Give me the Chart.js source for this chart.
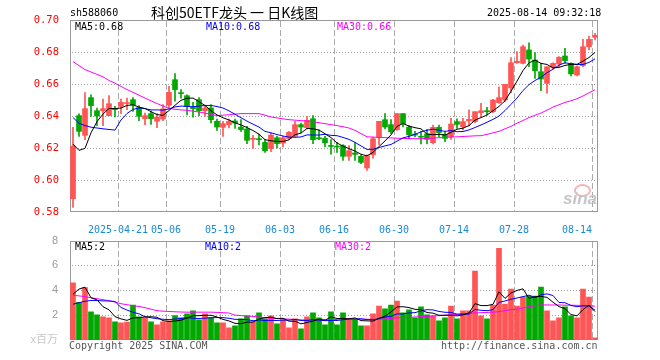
<!DOCTYPE html>
<html><head><meta charset="utf-8">
<script src="https://cdn.jsdelivr.net/npm/chart.js@4.4.1/dist/chart.umd.min.js"></script>
<style>
html,body{margin:0;padding:0;background:#fff;width:660px;height:360px;overflow:hidden;position:relative;font-family:"DejaVu Sans Mono",monospace;}
canvas{position:absolute;left:0;}
#c1{top:0}
#c2{top:230px}
.t{position:absolute;white-space:pre;font-size:10px;line-height:10px;}
</style></head><body>
<canvas id="c1" width="660" height="235"></canvas>
<canvas id="c2" width="660" height="130"></canvas>
<div class="t" style="left:70px;top:8px;color:#000">sh588060</div>
<div class="t" style="left:151px;top:3px;font-family:'Noto Sans CJK SC';font-size:14px;line-height:18px;color:#000">科创50ETF龙头 一 日K线图</div>
<div class="t" style="left:487px;top:8px;color:#000">2025-08-14 09:32:18</div>
<div class="t" style="left:75px;top:22px;color:#000">MA5:0.68</div>
<div class="t" style="left:206px;top:22px;color:#0000ff">MA10:0.68</div>
<div class="t" style="left:337px;top:22px;color:#ff00ff">MA30:0.66</div>
<div class="t" style="left:75px;top:242px;color:#000">MA5:2</div>
<div class="t" style="left:205px;top:242px;color:#0000ff">MA10:2</div>
<div class="t" style="left:335px;top:242px;color:#ff00ff">MA30:2</div>
<div class="t" style="left:69px;top:341px;color:#555">Copyright 2025 SINA.COM</div>
<div class="t" style="left:441px;top:341px;color:#555">http://finance.sina.com.cn</div>
<div style="position:absolute;left:574px;top:184px;width:13px;height:9px;border:2px solid #f3b5b5;border-radius:50%;"></div>
<div class="t" style="left:563px;top:190px;font-family:'Liberation Sans';font-style:italic;font-weight:bold;font-size:17px;line-height:17px;color:#c6c6c6">sina</div>
<script>
const dates = ["04-09","04-10","04-11","04-14","04-15","04-16","04-17","04-18",
"04-21","04-22","04-23","04-24","04-25","04-28","04-29","04-30",
"05-06","05-07","05-08","05-09","05-12","05-13","05-14","05-15","05-16",
"05-19","05-20","05-21","05-22","05-23","05-26","05-27","05-28","05-29","05-30",
"06-03","06-04","06-05","06-06","06-09","06-10","06-11","06-12","06-13",
"06-16","06-17","06-18","06-19","06-20","06-23","06-24","06-25","06-26","06-27",
"06-30","07-01","07-02","07-03","07-04","07-07","07-08","07-09","07-10","07-11",
"07-14","07-15","07-16","07-17","07-18","07-21","07-22","07-23","07-24","07-25",
"07-28","07-29","07-30","07-31","08-01","08-04","08-05","08-06","08-07","08-08","08-11","08-12","08-13",
"08-14"];
const tickLabels = {"04-21":"2025-04-21","05-06":"05-06","05-19":"05-19","06-03":"06-03","06-16":"06-16","06-30":"06-30","07-14":"07-14","07-28":"07-28","08-14":"08-14     "};

const open = [0.5883,0.6402,0.6279,0.6515,0.6433,0.6433,0.6402,0.6448,0.6460,0.6478,
0.6502,0.6452,0.6383,0.6415,0.6367,0.6381,0.6467,0.6627,0.6544,0.6527,
0.6454,0.6502,0.6433,0.6450,0.6367,0.6329,0.6346,0.6369,0.6331,0.6319,
0.6254,0.6258,0.6235,0.6196,0.6264,0.6231,0.6260,0.6273,0.6346,0.6327,
0.6383,0.6264,0.6260,0.6215,0.6210,0.6215,0.6148,0.6169,0.6148,0.6075,
0.6158,0.6269,0.6377,0.6346,0.6315,0.6415,0.6331,0.6287,0.6272,0.6288,
0.6233,0.6329,0.6285,0.6271,0.6365,0.6333,0.6369,0.6365,0.6421,0.6431,
0.6427,0.6483,0.6500,0.6575,0.6733,0.6729,0.6813,0.6750,0.6677,0.6604,
0.6704,0.6725,0.6775,0.6729,0.6656,0.6715,0.6833,0.6892];
const high = [0.6329,0.6414,0.6547,0.6533,0.6450,0.6506,0.6527,0.6460,0.6506,0.6512,
0.6515,0.6465,0.6419,0.6431,0.6415,0.6471,0.6585,0.6665,0.6565,0.6533,
0.6485,0.6515,0.6460,0.6471,0.6381,0.6367,0.6381,0.6381,0.6377,0.6335,
0.6279,0.6287,0.6252,0.6294,0.6273,0.6273,0.6304,0.6367,0.6356,0.6398,
0.6402,0.6314,0.6273,0.6252,0.6235,0.6221,0.6215,0.6235,0.6158,0.6158,
0.6269,0.6367,0.6415,0.6377,0.6415,0.6415,0.6340,0.6304,0.6302,0.6317,
0.6344,0.6344,0.6302,0.6385,0.6383,0.6385,0.6438,0.6427,0.6479,0.6454,
0.6504,0.6583,0.6598,0.6765,0.6802,0.6844,0.6858,0.6796,0.6729,0.6708,
0.6733,0.6771,0.6823,0.6733,0.6713,0.6879,0.6900,0.6917];
const low = [0.5829,0.6273,0.6252,0.6398,0.6340,0.6340,0.6402,0.6394,0.6415,0.6440,
0.6429,0.6371,0.6346,0.6348,0.6327,0.6371,0.6446,0.6492,0.6512,0.6406,
0.6392,0.6402,0.6398,0.6356,0.6310,0.6273,0.6325,0.6323,0.6304,0.6227,
0.6198,0.6219,0.6173,0.6177,0.6200,0.6206,0.6252,0.6269,0.6294,0.6319,
0.6227,0.6252,0.6206,0.6162,0.6173,0.6123,0.6123,0.6123,0.6102,0.6060,
0.6137,0.6221,0.6319,0.6290,0.6310,0.6331,0.6256,0.6269,0.6225,0.6225,
0.6225,0.6267,0.6240,0.6254,0.6323,0.6313,0.6338,0.6358,0.6396,0.6406,
0.6421,0.6479,0.6490,0.6545,0.6729,0.6725,0.6708,0.6635,0.6558,0.6542,
0.6692,0.6708,0.6729,0.6650,0.6650,0.6708,0.6813,0.6875];
const close = [0.6212,0.6304,0.6446,0.6465,0.6400,0.6446,0.6477,0.6440,0.6485,0.6481,
0.6469,0.6398,0.6402,0.6383,0.6394,0.6444,0.6548,0.6565,0.6540,0.6460,
0.6446,0.6433,0.6450,0.6377,0.6331,0.6352,0.6367,0.6356,0.6315,0.6248,
0.6260,0.6252,0.6183,0.6281,0.6227,0.6264,0.6298,0.6346,0.6331,0.6373,
0.6252,0.6258,0.6233,0.6210,0.6206,0.6148,0.6183,0.6160,0.6110,0.6152,
0.6258,0.6367,0.6331,0.6302,0.6415,0.6352,0.6283,0.6281,0.6267,0.6254,
0.6329,0.6296,0.6260,0.6350,0.6348,0.6365,0.6379,0.6427,0.6433,0.6427,
0.6500,0.6515,0.6598,0.6733,0.6742,0.6833,0.6756,0.6683,0.6631,0.6708,
0.6729,0.6767,0.6746,0.6663,0.6708,0.6833,0.6879,0.6904];

const ma5 = [0.6225,0.6185,0.6198,0.6295,0.6365,0.6412,0.6447,0.6446,0.6450,0.6466,
0.6470,0.6455,0.6447,0.6427,0.6409,0.6404,0.6434,0.6467,0.6498,0.6511,
0.6512,0.6489,0.6466,0.6433,0.6407,0.6389,0.6375,0.6357,0.6344,0.6328,
0.6309,0.6286,0.6252,0.6245,0.6241,0.6241,0.6251,0.6283,0.6293,0.6322,
0.6320,0.6312,0.6289,0.6265,0.6232,0.6211,0.6196,0.6181,0.6161,0.6151,
0.6173,0.6209,0.6244,0.6282,0.6335,0.6353,0.6337,0.6327,0.6320,0.6287,
0.6283,0.6285,0.6281,0.6298,0.6317,0.6324,0.6340,0.6374,0.6390,0.6406,
0.6433,0.6460,0.6495,0.6555,0.6618,0.6684,0.6732,0.6749,0.6729,0.6722,
0.6701,0.6704,0.6716,0.6723,0.6723,0.6743,0.6766,0.6797];
const ma10 = [0.6390,0.6355,0.6340,0.6330,0.6325,0.6320,0.6316,0.6312,0.6375,0.6416,
0.6441,0.6451,0.6446,0.6438,0.6438,0.6437,0.6444,0.6457,0.6462,0.6460,
0.6458,0.6462,0.6466,0.6466,0.6459,0.6450,0.6432,0.6411,0.6389,0.6368,
0.6349,0.6331,0.6304,0.6295,0.6284,0.6275,0.6268,0.6267,0.6269,0.6282,
0.6281,0.6281,0.6286,0.6279,0.6277,0.6266,0.6254,0.6235,0.6213,0.6191,
0.6192,0.6203,0.6213,0.6222,0.6243,0.6263,0.6273,0.6285,0.6301,0.6311,
0.6318,0.6311,0.6304,0.6309,0.6302,0.6303,0.6313,0.6328,0.6344,0.6361,
0.6379,0.6400,0.6434,0.6473,0.6512,0.6559,0.6596,0.6622,0.6642,0.6670,
0.6693,0.6718,0.6733,0.6726,0.6722,0.6722,0.6735,0.6757];
const ma30 = [0.6740,0.6715,0.6690,0.6675,0.6660,0.6645,0.6622,0.6605,0.6585,0.6565,
0.6548,0.6530,0.6512,0.6495,0.6478,0.6462,0.6448,0.6442,0.6438,0.6436,
0.6430,0.6425,0.6418,0.6410,0.6402,0.6405,0.6408,0.6412,0.6415,0.6415,
0.6415,0.6415,0.6405,0.6394,0.6388,0.6382,0.6377,0.6374,0.6371,0.6369,
0.6364,0.6358,0.6352,0.6346,0.6340,0.6333,0.6325,0.6310,0.6290,0.6270,
0.6268,0.6266,0.6265,0.6263,0.6261,0.6260,0.6259,0.6258,0.6258,0.6260,
0.6262,0.6264,0.6266,0.6268,0.6270,0.6272,0.6274,0.6276,0.6277,0.6285,
0.6295,0.6304,0.6320,0.6335,0.6355,0.6372,0.6390,0.6405,0.6418,0.6437,
0.6456,0.6470,0.6485,0.6495,0.6508,0.6525,0.6545,0.6564];

const volume = [4.61,3.04,4.21,2.26,2.02,1.86,1.78,1.46,1.38,1.44,
2.82,1.86,1.78,1.46,1.22,1.46,1.54,1.97,1.78,2.10,
2.34,1.62,2.10,1.81,1.38,1.38,0.98,1.14,1.70,1.94,
1.46,2.18,1.70,1.94,1.30,1.62,0.98,1.70,0.90,1.86,
2.18,1.78,1.22,2.26,1.22,2.18,1.62,1.62,1.14,1.14,
2.10,2.74,2.50,2.82,3.14,2.18,2.42,1.78,2.66,2.02,
1.94,1.54,1.78,2.74,1.70,2.34,2.34,5.54,1.94,1.70,
2.82,7.38,2.90,4.10,2.74,3.46,3.54,3.54,4.26,2.34,
1.54,1.78,2.66,1.94,1.78,4.10,3.46,0.18];
const volMa5 = [3.68,4.10,4.25,3.40,3.23,2.68,2.43,1.88,1.70,1.58,
1.78,1.79,1.86,1.87,1.83,1.56,1.49,1.53,1.59,1.77,
1.95,1.96,1.99,1.99,1.85,1.66,1.53,1.34,1.32,1.43,
1.44,1.68,1.80,1.84,1.72,1.75,1.51,1.51,1.30,1.41,
1.52,1.68,1.59,1.86,1.73,1.73,1.70,1.78,1.56,1.54,
1.52,1.75,1.92,2.26,2.66,2.68,2.61,2.47,2.44,2.21,
2.16,1.99,1.99,2.00,1.94,2.02,2.18,2.93,2.77,2.77,
2.87,3.88,3.35,3.78,3.99,4.12,3.35,3.48,3.51,3.43,
3.04,2.69,2.52,2.05,1.94,2.45,2.79,2.29];
const volMa10 = [2.88,3.00,3.12,3.18,3.18,3.15,3.14,3.10,2.62,2.41,
2.23,2.11,1.87,1.79,1.71,1.67,1.64,1.69,1.73,1.80,
1.75,1.73,1.76,1.79,1.81,1.80,1.75,1.66,1.66,1.64,
1.55,1.61,1.57,1.58,1.57,1.60,1.60,1.65,1.57,1.56,
1.64,1.60,1.55,1.58,1.57,1.63,1.69,1.68,1.71,1.64,
1.63,1.72,1.85,1.91,2.10,2.10,2.18,2.20,2.35,2.44,
2.42,2.30,2.23,2.22,2.08,2.09,2.08,2.46,2.39,2.36,
2.44,3.03,3.14,3.28,3.38,3.49,3.61,3.41,3.64,3.71,
3.58,3.02,3.00,2.78,2.68,2.75,2.74,2.40];
const volMa30 = [3.60,3.55,3.49,3.40,3.32,3.25,3.16,3.05,2.92,2.84,
2.76,2.70,2.60,2.48,2.36,2.32,2.30,2.27,2.25,2.24,
2.24,2.24,2.24,2.24,2.22,2.20,2.17,2.00,1.96,1.93,
1.90,1.85,1.79,1.76,1.73,1.70,1.68,1.65,1.62,1.62,
1.62,1.62,1.62,1.62,1.66,1.70,1.70,1.69,1.68,1.67,
1.66,1.67,1.70,1.74,1.78,1.80,1.82,1.85,1.88,1.90,
1.93,1.96,2.00,2.03,2.06,2.10,2.14,2.18,2.20,2.22,
2.24,2.28,2.36,2.44,2.48,2.58,2.68,2.76,2.82,2.82,
2.82,2.82,2.80,2.80,2.79,2.78,2.76,2.72];

const priceTicks = [0.58,0.60,0.62,0.64,0.66,0.68,0.70];
const volTicks = [0,2,4,6,8];

const RED = '#ff5555', GREEN = '#00a800';
const candleColor = close.map((c,i) => c >= open[i] ? RED : GREEN);
const gridIdx = dates.map((d,i)=> tickLabels[d] ? i : -1).filter(i=>i>0);

// dotted / dashed grid and frame, positioned through the chart's own scales
const gridPlugin = {
  id: 'gridFrame',
  beforeDatasetsDraw(chart, args, opts) {
    const c = chart.ctx, a = chart.chartArea, xs = chart.scales.x, ys = chart.scales.y;
    const half = (xs.getPixelForValue(1) - xs.getPixelForValue(0)) / 2;
    const L = Math.round(a.left), R = Math.round(a.right), T = Math.round(a.top), B = Math.round(a.bottom);
    c.save();
    c.fillStyle = '#a0a0a0';
    opts.lines.forEach(v => {
      const py = Math.round(ys.getPixelForValue(v));
      for (let x = L + 2; x < R - 1; x += 3) c.fillRect(x, py, 1, 1);
    });
    c.fillStyle = '#ababab';
    gridIdx.forEach(i => {
      const px = Math.round(xs.getPixelForValue(i) - half);
      for (let y = T + 1; y < B; y += 9) c.fillRect(px, y, 1, Math.min(6, B - y));
    });
    c.fillStyle = '#9a9a9a';
    c.fillRect(L, T, R - L, 1);
    c.fillRect(L, B - 1, R - L, 1);
    c.fillRect(L, T, 1, B - T);
    c.fillRect(R - 1, T, 1, B - T);
    c.restore();
  }
};

function xScale(showLabels, h) {
  return {
    type: 'category', offset: true,
    grid: { display: false },
    border: { display: false },
    ticks: { display: showLabels, autoSkip: false, maxRotation: 0, minRotation: 0, padding: 4, labelOffset: -3,
      color: '#1a8ad4', font: { family: 'DejaVu Sans Mono', size: 10 },
      callback: (v, i) => tickLabels[dates[i]] || '' },
    afterFit: s => { s.height = h; }
  };
}

Chart.defaults.animation = false;
Chart.defaults.font.family = 'DejaVu Sans Mono';

new Chart(document.getElementById('c1'), {
  type: 'bar',
  data: {
    labels: dates,
    datasets: [
      { type: 'line', data: ma5, borderColor: '#000000', borderWidth: 1, pointRadius: 0, order: 0 },
      { type: 'line', data: ma10, borderColor: '#0000ff', borderWidth: 1, pointRadius: 0, order: 0 },
      { type: 'line', data: ma30, borderColor: '#ff00ff', borderWidth: 1, pointRadius: 0, order: 0 },
      { data: open.map((o,i)=>[Math.min(o,close[i]), Math.max(o,close[i])]), backgroundColor: candleColor,
        barThickness: 5, grouped: false, minBarLength: 1, borderWidth: 0, order: 1 },
      { data: low.map((l,i)=>[l, high[i]]), backgroundColor: candleColor,
        barThickness: 1, grouped: false, minBarLength: 1, borderWidth: 0, order: 2 }
    ]
  },
  options: {
    responsive: false, devicePixelRatio: 1,
    layout: { padding: { top: 20, right: 62, left: 0, bottom: 0 } },
    plugins: { legend: { display: false }, tooltip: { enabled: false }, gridFrame: { lines: [0.60,0.62,0.64,0.66,0.68] } },
    scales: {
      x: xScale(true, 23),
      y: {
        min: 0.58, max: 0.70,
        afterBuildTicks: s => { s.ticks = priceTicks.map(v => ({ value: v })); },
        afterFit: s => { s.width = 70; },
        grid: { display: false },
        border: { display: false },
        ticks: { color: '#ff0000', padding: 3, font: { family: 'DejaVu Sans Mono', size: 10.5 },
          callback: v => Number(v).toFixed(2) }
      }
    }
  },
  plugins: [gridPlugin]
});

new Chart(document.getElementById('c2'), {
  type: 'bar',
  data: {
    labels: dates,
    datasets: [
      { type: 'line', data: volMa5, borderColor: '#000000', borderWidth: 1, pointRadius: 0, order: 0 },
      { type: 'line', data: volMa10, borderColor: '#0000ff', borderWidth: 1, pointRadius: 0, order: 0 },
      { type: 'line', data: volMa30, borderColor: '#ff00ff', borderWidth: 1, pointRadius: 0, order: 0 },
      { data: volume, backgroundColor: candleColor, barThickness: 5, grouped: false, borderWidth: 0, order: 1 }
    ]
  },
  options: {
    responsive: false, devicePixelRatio: 1,
    layout: { padding: { top: 10, right: 62, left: 0, bottom: 0 } },
    plugins: { legend: { display: false }, tooltip: { enabled: false }, gridFrame: { lines: [2,4,6] } },
    scales: {
      x: xScale(false, 20),
      y: {
        min: 0, max: 8,
        afterBuildTicks: s => { s.ticks = volTicks.map(v => ({ value: v })); },
        afterFit: s => { s.width = 70; },
        grid: { display: false },
        border: { display: false },
        ticks: { padding: 4, font: { family: "'Liberation Sans','Noto Sans CJK SC'", size: 11 },
          color: ctx => ctx.tick && ctx.tick.value === 0 ? '#c8c8c8' : '#9a9a9a',
          callback: v => v === 0 ? 'x百万' : String(v) }
      }
    }
  },
  plugins: [gridPlugin]
});
</script>
</body></html>
